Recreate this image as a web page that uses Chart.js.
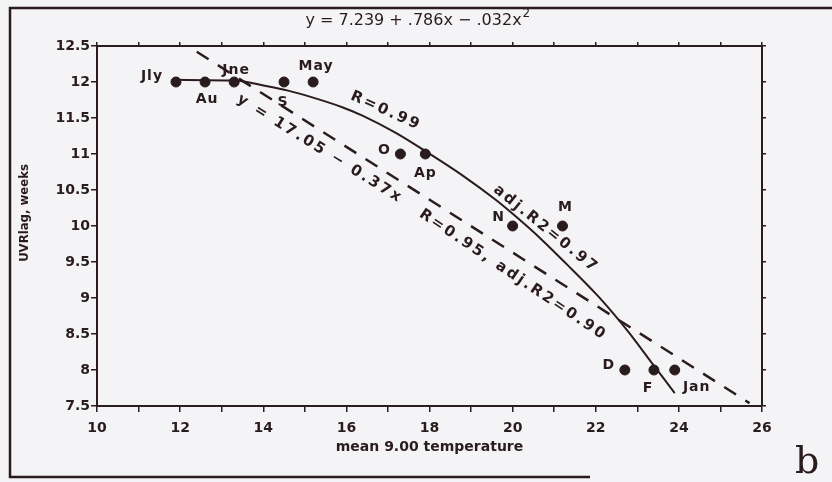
<!DOCTYPE html>
<html>
<head>
<meta charset="utf-8">
<script src="https://cdn.jsdelivr.net/npm/chart.js@4.4.0/dist/chart.umd.min.js"></script>
<style>
    html, body { margin: 0; padding: 0; background: #f4f4f6; }
    #wrap { width: 832px; height: 482px; }
</style>
</head>
<body>
<div id="wrap"><canvas id="uvrChart" width="832" height="482"></canvas></div>
<script>
/* UVR lag vs mean 9.00 temperature, panel b */

// Monthly observations
const monthLabels = ['Jly', 'Au', 'Jne', 'S', 'May', 'O', 'Ap', 'N', 'M', 'D', 'F', 'Jan'];
const meanTemp = [11.9, 12.6, 13.3, 14.5, 15.2, 17.3, 17.9, 20.0, 21.2, 22.7, 23.4, 23.9];
const uvrLag = [12, 12, 12, 12, 12, 11, 11, 10, 10, 8, 8, 8];

// Quadratic fit line
const fitTemp = [11.9, 13.3, 14.1, 14.6, 15.1, 15.9, 16.4, 17.2, 17.9, 18.8, 19.6, 20.1, 20.7, 21.3, 22.0, 22.4, 22.8, 23.4, 23.9];
const fitLag = [12.03, 12.02, 11.94, 11.88, 11.80, 11.65, 11.53, 11.29, 11.04, 10.70, 10.36, 10.12, 9.81, 9.47, 9.06, 8.80, 8.52, 8.06, 7.68];

// Linear fit line (dashed), end points
const linTemp = [12.4, 25.7];
const linLag = [12.42, 7.54];

// Axis tick labels
const xTickLabels = [10, 12, 14, 16, 18, 20, 22, 24, 26];
const yTickLabels = [7.5, 8, 8.5, 9, 9.5, 10, 10.5, 11, 11.5, 12, 12.5];

const INK = '#2a1b1d';
const PAPER = '#f4f4f6';
const SANS = '"DejaVu Sans", sans-serif';

// where each month label sits relative to its dot (px)
const labelOffsets = [[-24, -6], [2, 17], [2, -12], [-1, 20], [3, -16], [-16, -4],
                      [0, 19], [-14, -9], [3, -19], [-16, -5], [-6, 18], [22, 17]];

// rotated notes along the fit lines
const notes = [
    { text: 'R=0.99', x: 386, y: 111, angle: 24 },
    { text: 'adj.R2=0.97', x: 546, y: 229, angle: 39 },
    { text: 'y = 17.05 \u2212 0.37x', x: 320, y: 149, angle: 32 },
    { text: 'R=0.95, adj.R2=0.90', x: 513, y: 275, angle: 34 }
];

function toPoints(xs, ys) {
    return xs.map((x, i) => ({ x: x, y: ys[i] }));
}

function drawText(ctx, text, x, y, font, angle, spacing) {
    ctx.save();
    ctx.translate(x, y);
    ctx.rotate((angle || 0) * Math.PI / 180);
    ctx.font = font;
    if ('letterSpacing' in ctx) ctx.letterSpacing = (spacing || 0) + 'px';
    ctx.fillStyle = INK;
    ctx.textAlign = 'center';
    ctx.textBaseline = 'middle';
    ctx.fillText(text, 0, 0);
    ctx.restore();
}

const paperPlugin = {
    id: 'paper',
    beforeDraw(chart) {
        const ctx = chart.ctx;
        ctx.save();
        ctx.fillStyle = PAPER;
        ctx.fillRect(0, 0, chart.width, chart.height);
        // scanned frame
        ctx.strokeStyle = INK;
        ctx.lineWidth = 2.5;
        ctx.beginPath();
        ctx.moveTo(832, 8);
        ctx.lineTo(10, 8);
        ctx.lineTo(10, 477);
        ctx.lineTo(590, 477);
        ctx.stroke();
        ctx.restore();
    },
    afterDraw(chart) {
        const ctx = chart.ctx;

        // header equation
        ctx.save();
        ctx.font = '16px ' + SANS;
        ctx.fillStyle = INK;
        ctx.textBaseline = 'middle';
        const head = 'y = 7.239 + .786x \u2212 .032x';
        const w = ctx.measureText(head).width;
        const hx = 418 - (w + 9) / 2;
        ctx.fillText(head, hx, 21);
        ctx.font = '12px ' + SANS;
        ctx.fillText('2', hx + w + 1, 14);
        ctx.restore();

        // y axis title
        drawText(ctx, 'UVRlag, weeks', 25, 213, 'bold 13px "DejaVu Sans Condensed", ' + SANS, -90, 0);

        // month labels
        const meta = chart.getDatasetMeta(0);
        monthLabels.forEach((lbl, i) => {
            const pt = meta.data[i];
            const off = labelOffsets[i];
            drawText(ctx, lbl, pt.x + off[0], pt.y + off[1], 'bold 14px ' + SANS, 0, 1);
        });

        notes.forEach(n => drawText(ctx, n.text, n.x, n.y, 'bold 15px ' + SANS, n.angle, 2.5));

        // panel letter
        ctx.save();
        ctx.font = '38px "DejaVu Serif", serif';
        ctx.fillStyle = INK;
        ctx.textBaseline = 'alphabetic';
        ctx.fillText('b', 795, 473);
        ctx.restore();
    }
};

const tickGrid = { drawOnChartArea: false, drawTicks: true, tickLength: 6, color: INK, lineWidth: 1.5 };
const axisBorder = { display: true, color: INK, width: 2 };
const tickFont = { family: SANS, size: 14, weight: 'bold' };

new Chart(document.getElementById('uvrChart'), {
    type: 'scatter',
    data: {
        datasets: [
            {
                label: 'months',
                data: toPoints(meanTemp, uvrLag),
                backgroundColor: INK,
                borderColor: INK,
                pointRadius: 5,
                showLine: false
            },
            {
                label: 'quadratic',
                data: toPoints(fitTemp, fitLag),
                borderColor: INK,
                borderWidth: 2,
                pointRadius: 0,
                showLine: true,
                cubicInterpolationMode: 'monotone',
                fill: false
            },
            {
                label: 'linear',
                data: toPoints(linTemp, linLag),
                borderColor: INK,
                borderWidth: 2.5,
                borderDash: [14, 11],
                pointRadius: 0,
                showLine: true,
                fill: false
            }
        ]
    },
    options: {
        responsive: false,
        animation: false,
        devicePixelRatio: 1,
        layout: { padding: 0 },
        plugins: {
            legend: { display: false },
            tooltip: { enabled: false }
        },
        scales: {
            x: {
                type: 'linear',
                position: 'bottom',
                min: 10,
                max: 26,
                afterFit: s => { s.height = 76; },
                ticks: {
                    stepSize: 1,
                    color: INK,
                    font: tickFont,
                    padding: 8,
                    maxRotation: 0,
                    autoSkip: false,
                    callback: v => xTickLabels.includes(v) ? String(v) : ''
                },
                grid: tickGrid,
                border: axisBorder,
                title: {
                    display: true,
                    text: 'mean 9.00 temperature',
                    color: INK,
                    font: { family: SANS, size: 14, weight: 'bold' },
                    padding: { top: 0, bottom: 26 }
                }
            },
            x2: {
                type: 'linear',
                position: 'top',
                min: 10,
                max: 26,
                afterFit: s => { s.height = 46; },
                ticks: { stepSize: 1, display: false },
                grid: Object.assign({}, tickGrid, { tickLength: 4 }),
                border: axisBorder
            },
            y: {
                type: 'linear',
                position: 'left',
                min: 7.5,
                max: 12.5,
                afterFit: s => { s.width = 97; },
                ticks: {
                    stepSize: 0.5,
                    color: INK,
                    font: tickFont,
                    padding: 1,
                    callback: v => yTickLabels.includes(v) ? String(v) : ''
                },
                grid: tickGrid,
                border: axisBorder
            },
            y2: {
                type: 'linear',
                position: 'right',
                min: 7.5,
                max: 12.5,
                afterFit: s => { s.width = 70; },
                ticks: { stepSize: 0.5, display: false },
                grid: Object.assign({}, tickGrid, { tickLength: 4 }),
                border: axisBorder
            }
        }
    },
    plugins: [paperPlugin]
});
</script>
</body>
</html>
